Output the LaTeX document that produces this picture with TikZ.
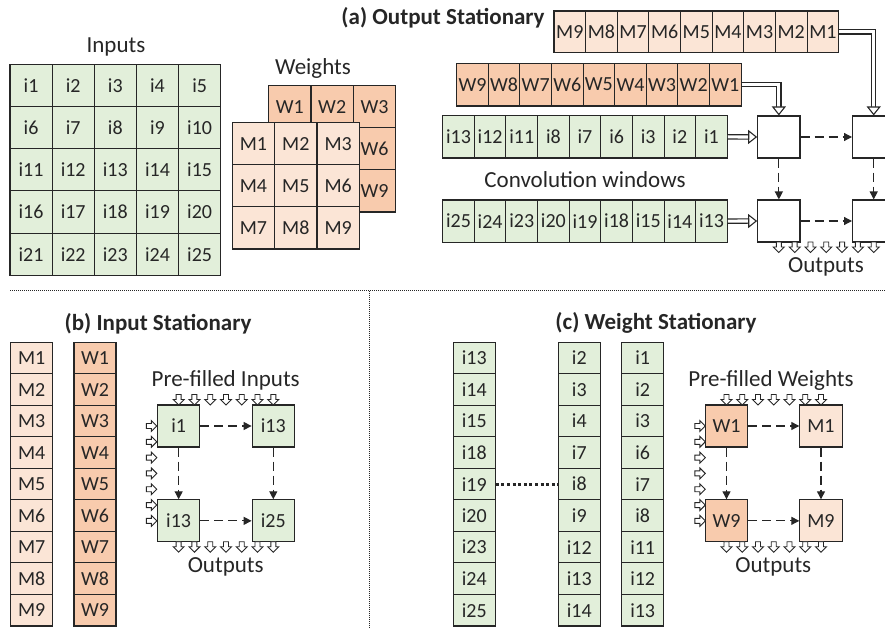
\documentclass[tikz,border=0pt]{standalone}
\usepackage{fontspec}
\setmainfont{Carlito}
\usetikzlibrary{arrows.meta}
\definecolor{gfill}{HTML}{E2EFDA}
\definecolor{mfill}{HTML}{FBE5D6}
\definecolor{wfill}{HTML}{F8CBAD}
\definecolor{ink}{HTML}{262626}
\tikzset{
  cell/.style={draw=ink, line width=1.1pt, inner sep=0pt, text=ink, font=\fontsize{20}{24}\selectfont},
  gcell/.style={cell, fill=gfill},
  mcell/.style={cell, fill=mfill},
  wcell/.style={cell, fill=wfill},
  pebox/.style={cell, minimum width=42.3pt, minimum height=42pt, fill=white},
  lab/.style={text=ink, inner sep=0pt, font=\fontsize{23}{27}\selectfont},
  ttl/.style={text=ink, inner sep=0pt, font=\bfseries\fontsize{23}{27}\selectfont},
  dflow/.style={draw=ink, line width=1.2pt, dash pattern=on 9pt off 5pt, -{Triangle[length=8pt,width=8pt]}},
  feed/.style={draw=ink, double=white, double distance=3.2pt, line width=1.1pt, -{Triangle[open, fill=white, length=9pt, width=14pt]}},
  sarr/.pic={\draw[ink, line width=0.9pt, fill=white, line join=miter] (-2.5,0) -- (2.5,0) -- (2.5,5) -- (5.5,5) -- (0,10.5) -- (-5.5,5) -- (-2.5,5) -- cycle;}
}
\begin{document}
\begin{tikzpicture}[x=1pt,y=-1pt]
\useasboundingbox (0,0) rectangle (885,628);
\clip (0,0) rectangle (885,628);

% ---------------- (a) Output Stationary ----------------
\node[ttl] (ttla) at (443,18) {(a) Output Stationary};
\node[lab] (labin) at (116,47) {Inputs};
\node[lab] (labw) at (313,68) {Weights};

\foreach \r in {0,...,4}{\foreach \c in {0,...,4}{
  \pgfmathtruncatemacro{\n}{5*\r+\c+1}
  \node[gcell, minimum width=42.14pt, minimum height=42.2pt] (in\n) at ({10+42.14*(\c+0.5)},{64.3+42.2*(\r+0.5)}) {i\n};
}}
% back weight grid (only the visible labels are written)
\foreach \t [count=\k from 0] in {W1,W2,W3,,,W6,,,W9}{
  \pgfmathtruncatemacro{\r}{int(\k/3)}
  \pgfmathtruncatemacro{\c}{\k-3*\r}
  \node[wcell, minimum width=42.33pt, minimum height=42.1pt] (wb\k) at ({268.7+42.33*(\c+0.5)},{85.7+42.1*(\r+0.5)}) {\t};
}
\foreach \r in {0,...,2}{\foreach \c in {0,...,2}{
  \pgfmathtruncatemacro{\n}{3*\r+\c+1}
  \node[mcell, minimum width=42.33pt, minimum height=42.1pt] (mf\n) at ({232.3+42.33*(\c+0.5)},{122.7+42.1*(\r+0.5)}) {M\n};
}}

\foreach \t [count=\k] in {M9,M8,M7,M6,M5,M4,M3,M2,M1}
  \node[mcell, minimum width=31.63pt, minimum height=41.7pt] (am\k) at ({554+31.63*(\k-0.5)},31.85) {\t};
\foreach \t [count=\k] in {W9,W8,W7,W6,W5,W4,W3,W2,W1}
  \node[wcell, minimum width=31.6pt, minimum height=42.7pt] (aw\k) at ({456.7+31.6*(\k-0.5)},84.65) {\t};
\foreach \t [count=\k] in {i13,i12,i11,i8,i7,i6,i3,i2,i1}
  \node[gcell, minimum width=31.62pt, minimum height=42.3pt] (ai\k) at ({442.7+31.62*(\k-0.5)},136.85) {\t};
\foreach \t [count=\k] in {i25,i24,i23,i20,i19,i18,i15,i14,i13}
  \node[gcell, minimum width=31.62pt, minimum height=42.3pt] (aj\k) at ({442.7+31.62*(\k-0.5)},221.15) {\t};

\node[lab] (labconv) at (585,180) {Convolution windows};

\node[pebox] (pe11) at (778.85,137) {};
\node[pebox] (pe12) at (873.7,137) {};
\node[pebox] (pe21) at (778.85,221) {};
\node[pebox] (pe22) at (873.7,221) {};

\draw[feed] (ai9.east) -- (pe11.west);
\draw[feed] (aj9.east) -- (pe21.west);
\draw[feed] (aw9.east) -| (pe11.north);
\draw[feed] (am9.east) -| (pe12.north);

\draw[dflow] (pe11) -- (pe12);
\draw[dflow] (pe21) -- (pe22);
\draw[dflow] (pe11) -- (pe21);
\draw[dflow] (pe12) -- (pe22);

\foreach \i in {0,...,6} \pic at ({778.85+15.81*\i},242) {sarr};
\node[lab] (outa) at (826,267) {Outputs};

% ---------------- dividers ----------------
\coordinate (hl) at (10,290.7);
\coordinate (hr) at (885,290.7);
\coordinate (vt) at (369,290.7);
\coordinate (vb) at (369,628);
\draw[ink, line width=0.9pt, dash pattern=on 1pt off 1pt] (hl) -- (hr);
\draw[ink, line width=0.9pt, dash pattern=on 1pt off 1pt] (vt) -- (vb);

% ---------------- (b) Input Stationary ----------------
\node[ttl] (ttlb) at (158,323.3) {(b) Input Stationary};
\foreach \k in {1,...,9}{
  \node[mcell, minimum width=42pt, minimum height=31.52pt] (bm\k) at (31.7,{342.3+31.52*(\k-0.5)}) {M\k};
  \node[wcell, minimum width=42pt, minimum height=31.52pt] (bw\k) at (95,{342.3+31.52*(\k-0.5)}) {W\k};
}
\node[lab] (prei) at (225.7,380.7) {Pre-filled Inputs};
\node[pebox, fill=gfill] (b11) at (178.65,426) {i1};
\node[pebox, fill=gfill] (b12) at (273.3,426) {i13};
\node[pebox, fill=gfill] (b21) at (178.65,520.85) {i13};
\node[pebox, fill=gfill] (b22) at (273.3,520.85) {i25};
\draw[dflow] (b11) -- (b12);
\draw[dflow] (b21) -- (b22);
\draw[dflow] (b11) -- (b21);
\draw[dflow] (b12) -- (b22);
\foreach \i in {0,...,6}{
  \pic at ({178.65+15.775*\i},394.5) {sarr};
  \pic at ({178.65+15.775*\i},541.7) {sarr};
  \pic[rotate=90] at (146.3,{426+15.81*\i}) {sarr};
}
\node[lab] (outb) at (225.7,566.7) {Outputs};

% ---------------- (c) Weight Stationary ----------------
\node[ttl] (ttlc) at (656,323.3) {(c) Weight Stationary};
\foreach \t [count=\k] in {i13,i14,i15,i18,i19,i20,i23,i24,i25}
  \node[gcell, minimum width=42pt, minimum height=31.52pt] (ca\k) at (474.3,{342.3+31.52*(\k-0.5)}) {\t};
\foreach \t [count=\k] in {i2,i3,i4,i7,i8,i9,i12,i13,i14}
  \node[gcell, minimum width=42pt, minimum height=31.52pt] (cb\k) at (579.3,{342.3+31.52*(\k-0.5)}) {\t};
\foreach \t [count=\k] in {i1,i2,i3,i6,i7,i8,i11,i12,i13}
  \node[gcell, minimum width=42pt, minimum height=31.52pt] (cc\k) at (642.7,{342.3+31.52*(\k-0.5)}) {\t};
\draw[ink, line width=3pt, dash pattern=on 3pt off 2.6pt] (ca5.east) -- (cb5.west);

\node[lab] (prew) at (771,380.7) {Pre-filled Weights};
\node[pebox, fill=wfill] (c11) at (726.5,426) {W1};
\node[pebox, fill=mfill] (c12) at (821,426) {M1};
\node[pebox, fill=wfill] (c21) at (726.5,520.85) {W9};
\node[pebox, fill=mfill] (c22) at (821,520.85) {M9};
\draw[dflow] (c11) -- (c12);
\draw[dflow] (c21) -- (c22);
\draw[dflow] (c11) -- (c21);
\draw[dflow] (c12) -- (c22);
\foreach \i in {0,...,6}{
  \pic at ({726.5+15.75*\i},394.5) {sarr};
  \pic at ({726.5+15.75*\i},541.7) {sarr};
  \pic[rotate=90] at (694.8,{426+15.81*\i}) {sarr};
}
\node[lab] (outc) at (773.3,566.7) {Outputs};
\end{tikzpicture}
\end{document}
